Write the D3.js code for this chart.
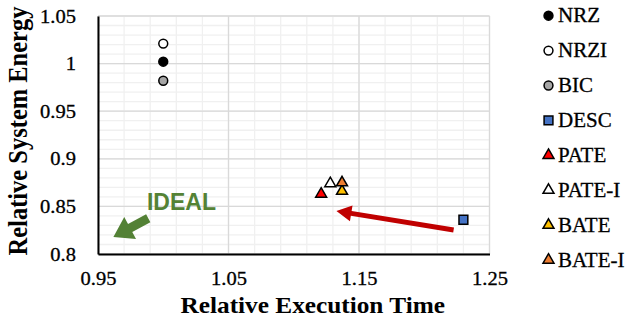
<!DOCTYPE html>
<html>
<head>
<meta charset="utf-8">
<script src="https://cdn.jsdelivr.net/npm/d3@7"></script>
<style>
  html, body { margin: 0; padding: 0; background: #fff; }
  svg { display: block; }
  text.serif { font-family: "Liberation Serif", "Times New Roman", Times !important; }
  text.reg { stroke: #000; stroke-width: 0.3px; }
</style>
</head>
<body>
<svg id="chart" width="626" height="323"></svg>
<script>
// ---- data ----
const seriesNames = ["NRZ", "NRZI", "BIC", "DESC", "PATE", "PATE-I", "BATE", "BATE-I"];
const execTime    = [1.0,   1.0,    1.0,   1.23,   1.121,  1.128,    1.137,  1.137];
const sysEnergy   = [1.002, 1.021,  0.982, 0.836,  0.863,  0.874,    0.866,  0.875];
const markerShape = ["circle", "circle", "circle", "square", "triangle", "triangle", "triangle", "triangle"];
const markerFill  = ["#000000", "#ffffff", "#a6a6a6", "#4472c4", "#ff0000", "#ffffff", "#ffc000", "#ed7d31"];
const xTicks = [0.95, 1.05, 1.15, 1.25];
const yTicks = [0.8, 0.85, 0.9, 0.95, 1, 1.05];
const xTickLabels = ["0.95", "1.05", "1.15", "1.25"];
const yTickLabels = ["0.8", "0.85", "0.9", "0.95", "1", "1.05"];
const xTitle = "Relative Execution Time";
const yTitle = "Relative System Energy";
// annotations (data coords): improvement arrow DESC -> PATE region, and IDEAL arrow
const trendArrow = { from: [1.2225, 0.8252], to: [1.1327, 0.8452] };
const idealArrow = { from: [0.9885, 0.8375], to: [0.9618, 0.8179] };
const idealLabel = { text: "IDEAL", at: [0.9875, 0.8465] };

// ---- layout ----
const svg = d3.select("#chart");
const L = 98, R = 489.5, T = 16, B = 254;
const x = d3.scaleLinear().domain([0.95, 1.25]).range([L, R]);
const y = d3.scaleLinear().domain([0.8, 1.05]).range([B, T]);
const SX = 1.08; // slight horizontal stretch of text as in reference

// minor grid
const xMinor = d3.range(0.95, 1.2501, 0.02).map(v => +v.toFixed(3));
const yMinor = d3.range(0.80, 1.0501, 0.01).map(v => +v.toFixed(3));
const g = svg.append("g");
g.selectAll(".xm").data(xMinor).join("line")
  .attr("x1", d => x(d)).attr("x2", d => x(d)).attr("y1", T).attr("y2", B)
  .attr("stroke", "#f0f0f0").attr("stroke-width", 1.3);
g.selectAll(".ym").data(yMinor).join("line")
  .attr("x1", L).attr("x2", R).attr("y1", d => y(d)).attr("y2", d => y(d))
  .attr("stroke", "#f0f0f0").attr("stroke-width", 1.3);
// major grid
g.selectAll(".xM").data(xTicks).join("line")
  .attr("x1", d => x(d)).attr("x2", d => x(d)).attr("y1", T).attr("y2", B)
  .attr("stroke", "#d9d9d9").attr("stroke-width", 1.3);
g.selectAll(".yM").data(yTicks).join("line")
  .attr("x1", L).attr("x2", R).attr("y1", d => y(d)).attr("y2", d => y(d))
  .attr("stroke", "#d9d9d9").attr("stroke-width", 1.3);

// axes
const xAxis = d3.axisBottom(x).tickValues(xTicks).tickFormat((d, i) => xTickLabels[i]).tickSize(0).tickPadding(0);
const yAxis = d3.axisLeft(y).tickValues(yTicks).tickFormat((d, i) => yTickLabels[i]).tickSize(0).tickPadding(0);
const gx = svg.append("g").attr("transform", `translate(0,${B})`).call(xAxis);
const gy = svg.append("g").attr("transform", `translate(${L},0)`).call(yAxis);
[gx, gy].forEach(a => {
  a.attr("font-family", null).attr("font-size", null);
  a.select(".domain").attr("stroke", "#000").attr("stroke-width", 2);
  a.selectAll("text").attr("class", "serif reg").style("font-size", "19px").attr("fill", "#000");
});
gx.selectAll(".tick text").attr("dy", null).attr("y", 31).attr("x", 0)
  .attr("text-anchor", "middle").attr("transform", `scale(${SX},1)`);
gy.selectAll(".tick text").attr("x", -22 / SX).attr("dy", "0.32em").attr("text-anchor", "end")
  .attr("transform", `scale(${SX},1)`);

// titles
svg.append("text").attr("class", "serif")
  .attr("transform", `translate(${(L + R) / 2 + 19},313) scale(1.1,1)`)
  .attr("text-anchor", "middle").style("font-weight", "bold")
  .style("font-size", "23px").text(xTitle);
svg.append("text").attr("class", "serif")
  .attr("transform", `translate(27,131) rotate(-90) scale(1,${SX})`)
  .attr("text-anchor", "middle").style("font-weight", "bold")
  .style("font-size", "24.5px").text(yTitle);

// marker helper
function symbolFor(s) {
  if (s === "circle") return d3.symbol().type(d3.symbolCircle).size(62)();
  if (s === "square") return d3.symbol().type(d3.symbolSquare).size(78)();
  return d3.symbol().type(d3.symbolTriangle).size(52)();
}

// arrows (annotations)
function blockArrow(from, to, shaftW, headL, headW) {
  const [x0, y0] = [x(from[0]), y(from[1])], [x1, y1] = [x(to[0]), y(to[1])];
  const dx = x1 - x0, dy = y1 - y0, len = Math.hypot(dx, dy);
  const ux = dx / len, uy = dy / len, px = -uy, py = ux;
  const bx = x1 - ux * headL, by = y1 - uy * headL;
  const pts = [
    [x0 + px * shaftW / 2, y0 + py * shaftW / 2],
    [bx + px * shaftW / 2, by + py * shaftW / 2],
    [bx + px * headW / 2, by + py * headW / 2],
    [x1, y1],
    [bx - px * headW / 2, by - py * headW / 2],
    [bx - px * shaftW / 2, by - py * shaftW / 2],
    [x0 - px * shaftW / 2, y0 - py * shaftW / 2]
  ];
  return "M" + pts.map(p => p.join(",")).join("L") + "Z";
}
svg.append("path").attr("d", blockArrow(trendArrow.from, trendArrow.to, 5, 15, 16)).attr("fill", "#c00000");
svg.append("path").attr("d", blockArrow(idealArrow.from, idealArrow.to, 9, 19, 25)).attr("fill", "#538135");
svg.append("text").attr("x", x(idealLabel.at[0])).attr("y", y(idealLabel.at[1]))
  .style("font-family", "'Liberation Sans',Arial").style("font-weight", "bold")
  .style("font-size", "23px").attr("fill", "#548235").text(idealLabel.text);

// points
const pts = seriesNames.map((n, i) => ({ n, x: execTime[i], y: sysEnergy[i], s: markerShape[i], f: markerFill[i] }));
svg.append("g").selectAll("path").data(pts).join("path")
  .attr("d", d => symbolFor(d.s))
  .attr("transform", d => `translate(${x(d.x)},${y(d.y)})`)
  .attr("fill", d => d.f).attr("stroke", "#000").attr("stroke-width", 1.5);

// legend
const lg = svg.append("g");
const rows = lg.selectAll("g").data(pts).join("g")
  .attr("transform", (d, i) => `translate(548.5,${15.7 + i * 34.9})`);
rows.append("path").attr("d", d => symbolFor(d.s)).attr("fill", d => d.f)
  .attr("stroke", "#000").attr("stroke-width", 1.5);
rows.append("text").attr("class", "serif reg").attr("transform", `translate(9.5,6.5) scale(1.05,1)`)
  .style("font-size", "20px").attr("fill", "#000").text(d => d.n);
</script>
</body>
</html>
